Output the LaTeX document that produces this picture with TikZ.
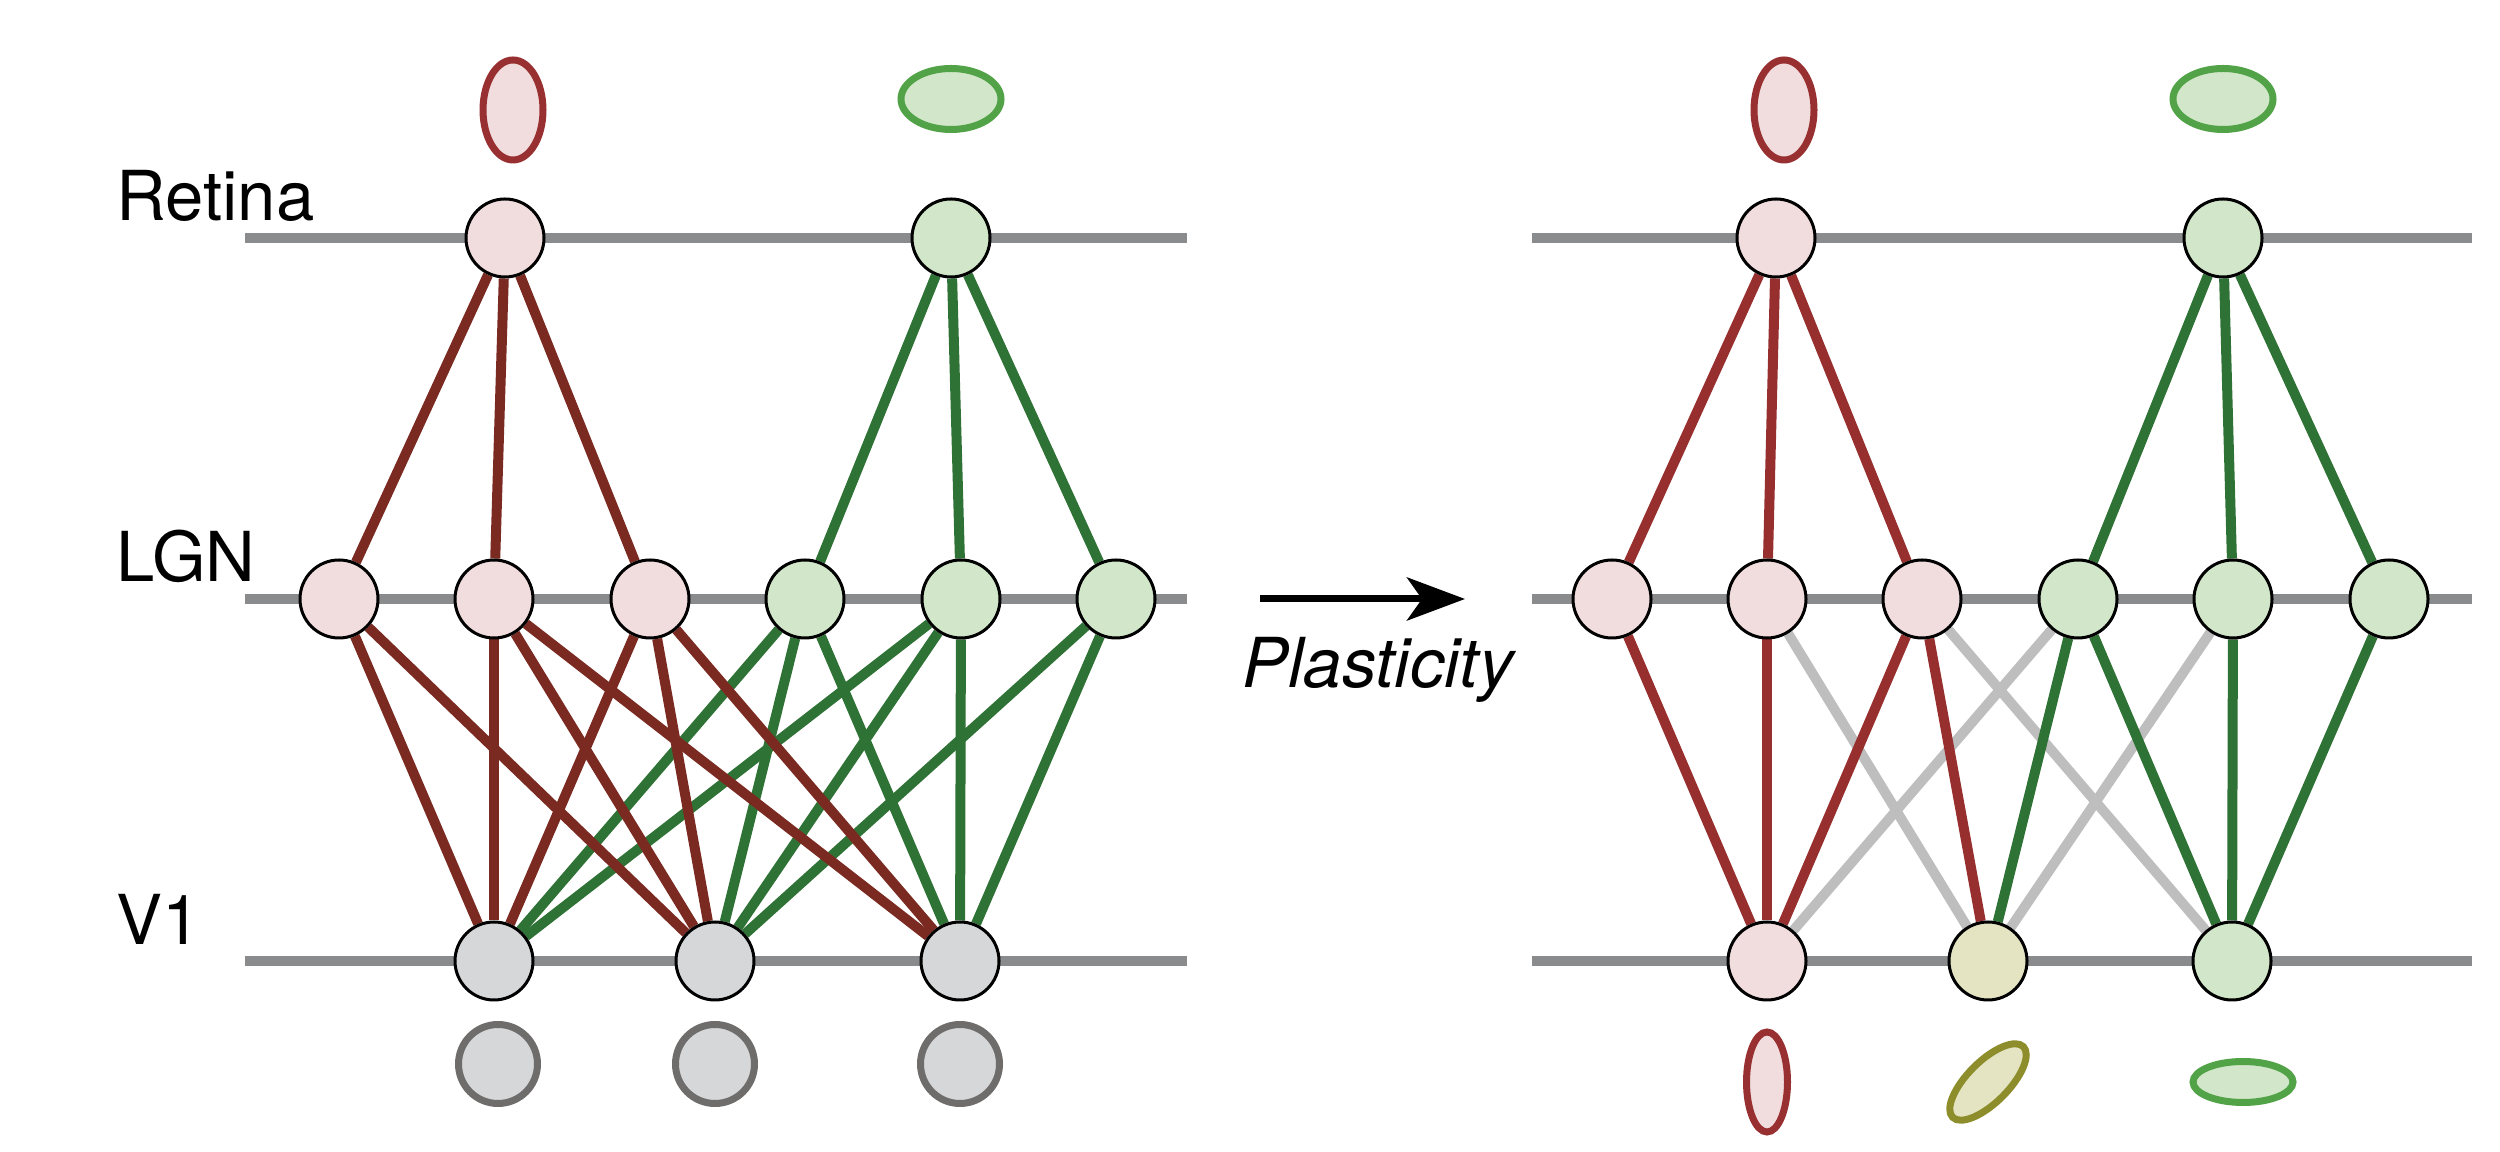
\documentclass[tikz,border=0pt]{standalone}
\usepackage{fontspec}
\setmainfont{TeX Gyre Heros}
\usepackage{xcolor}
\definecolor{layer}{HTML}{898B8D}
\definecolor{redline}{HTML}{7B2A22}
\definecolor{redlinep}{HTML}{982F2F}
\definecolor{greenline}{HTML}{2F7236}
\definecolor{fadeline}{HTML}{BEBEBE}
\definecolor{redfill}{HTML}{F1DDDD}
\definecolor{greenfill}{HTML}{D2E7CA}
\definecolor{grayfill}{HTML}{D5D7D9}
\definecolor{olivefill}{HTML}{E4E4C2}
\definecolor{rfred}{HTML}{983031}
\definecolor{rfgreen}{HTML}{52A247}
\definecolor{rfolive}{HTML}{8D8D2C}
\definecolor{rfgray}{HTML}{6F6C6C}
\usepackage{tikz}
\usetikzlibrary{positioning,arrows.meta,shapes.geometric,backgrounds}

\begin{document}
\begin{tikzpicture}[x=0.1mm,y=-0.1mm,font=\fontsize{19.6}{23}\selectfont,
  cell/.style={circle,draw=black,line width=0.3mm,minimum size=7.8mm,inner sep=0pt},
  rf/.style={ellipse,line width=0.7mm,inner sep=0pt},
  lyr/.style={layer,line width=1.05mm},
  lnk/.style={line width=1mm},
  lbl/.style={anchor=base west,inner sep=0pt}]
  \useasboundingbox (0,0) rectangle (2500,1152);
  % labels
  \node[lbl] (tret) at (116,221) {Retina};
  \node[lbl] (tlgn) at (116,582) {LGN};
  \node[lbl] (tv) at (116,945) {V1};
  % before: cells
  \node[cell,fill=redfill] (ra) at (505,238) {};
  \node[cell,fill=greenfill] (rb) at (951,238) {};
  \foreach \n/\x/\c in {1/339/redfill,2/494/redfill,3/650/redfill,4/805/greenfill,5/961/greenfill,6/1116/greenfill}
    \node[cell,fill=\c] (l\n) at (\x,599) {};
  \foreach \n/\x in {1/494,2/715,3/960}
    \node[cell,fill=grayfill] (v\n) at (\x,961) {};
  % before: receptive fields
  \node[rf,draw=rfred,fill=redfill,minimum width=6mm,minimum height=10mm] (fa) at (513,110) {};
  \node[rf,draw=rfgreen,fill=greenfill,minimum width=10mm,minimum height=6.1mm] (fb) at (951,99) {};
  \foreach \n/\x in {1/498,2/715,3/960}
    \node[rf,circle,draw=rfgray,fill=grayfill,minimum size=7.9mm] (o\n) at (\x,1064) {};
  % after: cells
  \node[cell,fill=redfill] (pra) at (1776,238) {};
  \node[cell,fill=greenfill] (prb) at (2223,238) {};
  \foreach \n/\x/\c in {1/1612/redfill,2/1767/redfill,3/1922/redfill,4/2078/greenfill,5/2233/greenfill,6/2389/greenfill}
    \node[cell,fill=\c] (pl\n) at (\x,599) {};
  \node[cell,fill=redfill] (pv1) at (1767,961) {};
  \node[cell,fill=olivefill] (pv2) at (1988,961) {};
  \node[cell,fill=greenfill] (pv3) at (2232,961) {};
  % after: receptive fields
  \node[rf,draw=rfred,fill=redfill,minimum width=6mm,minimum height=10mm] (pfa) at (1784,110) {};
  \node[rf,draw=rfgreen,fill=greenfill,minimum width=10mm,minimum height=6.1mm] (pfb) at (2223,99) {};
  \node[rf,draw=rfred,fill=redfill,minimum width=4.1mm,minimum height=10mm] (po1) at (1767,1082) {};
  \node[rf,draw=rfolive,fill=olivefill,minimum width=10mm,minimum height=4.1mm,rotate=45] (po2) at (1988,1082) {};
  \node[rf,draw=rfgreen,fill=greenfill,minimum width=10mm,minimum height=4.1mm] (po3) at (2243,1082) {};
  % plasticity arrow
  \coordinate (pa) at (1260,599);
  \coordinate (pb) at (1465,599);
  \draw[line width=0.7mm,-{Stealth[length=5.8mm,width=4.3mm,inset=1.5mm]}] (pa) -- (pb);
  \node[anchor=base,inner sep=0pt,font=\fontsize{19.6}{23}\selectfont\itshape] (plast) at (1378,688) {Plasticity};
  \begin{scope}[on background layer]
    \foreach \y in {238,599,961} {
      \draw[lyr] (245,\y) -- (1187,\y);
      \draw[lyr] (1532,\y) -- (2472,\y);
    }
    % before
    \foreach \q in {l1,l2,l3} \draw[lnk,redline] (ra) -- (\q);
    \foreach \q in {l4,l5,l6} \draw[lnk,greenline] (rb) -- (\q);
    \foreach \p/\q in {l4/v1,l4/v2,l4/v3,l5/v1,l5/v2,l5/v3,l6/v2,l6/v3}
      \draw[lnk,greenline] (\p) -- (\q);
    \foreach \p/\q in {l1/v1,l1/v2,l2/v1,l2/v2,l2/v3,l3/v1,l3/v2,l3/v3}
      \draw[lnk,redline] (\p) -- (\q);
    % after
    \foreach \q in {pl1,pl2,pl3} \draw[lnk,redlinep] (pra) -- (\q);
    \foreach \q in {pl4,pl5,pl6} \draw[lnk,greenline] (prb) -- (\q);
    \foreach \p/\q in {pl4/pv1,pl2/pv2,pl5/pv2,pl3/pv3}
      \draw[lnk,fadeline] (\p) -- (\q);
    \foreach \p/\q in {pl1/pv1,pl2/pv1,pl3/pv1,pl3/pv2}
      \draw[lnk,redlinep] (\p) -- (\q);
    \foreach \p/\q in {pl4/pv2,pl4/pv3,pl5/pv3,pl6/pv3}
      \draw[lnk,greenline] (\p) -- (\q);
  \end{scope}
\end{tikzpicture}
\end{document}
